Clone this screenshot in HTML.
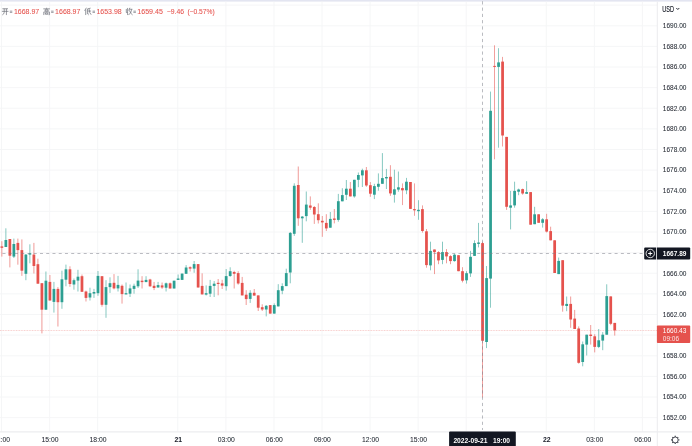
<!DOCTYPE html>
<html><head><meta charset="utf-8"><title>chart</title>
<style>
html,body{margin:0;padding:0;background:#fff;}
body{width:692px;height:446px;overflow:hidden;position:relative;font-family:"Liberation Sans",sans-serif;}
svg{position:absolute;left:0;top:0;display:block;}
text{font-family:"Liberation Sans",sans-serif;}
</style></head><body>
<svg width="692" height="446" viewBox="0 0 692 446" style="will-change:transform">
<rect x="0" y="0" width="692" height="446" fill="#ffffff"/>
<rect x="0" y="0" width="692" height="1.6" fill="#e3e5f1"/>
<defs><filter id="b" x="-5%" y="-50%" width="110%" height="200%"><feGaussianBlur stdDeviation="0.28"/></filter><filter id="b2" x="-2%" y="-2%" width="104%" height="104%"><feGaussianBlur stdDeviation="0.25"/></filter></defs>
<g stroke="#f4f5f6" stroke-width="0.9" shape-rendering="auto">
<line x1="0" y1="25.75" x2="657.3" y2="25.75"/>
<line x1="0" y1="46.38" x2="657.3" y2="46.38"/>
<line x1="0" y1="67.00" x2="657.3" y2="67.00"/>
<line x1="0" y1="87.62" x2="657.3" y2="87.62"/>
<line x1="0" y1="108.25" x2="657.3" y2="108.25"/>
<line x1="0" y1="128.88" x2="657.3" y2="128.88"/>
<line x1="0" y1="149.50" x2="657.3" y2="149.50"/>
<line x1="0" y1="170.12" x2="657.3" y2="170.12"/>
<line x1="0" y1="190.75" x2="657.3" y2="190.75"/>
<line x1="0" y1="211.38" x2="657.3" y2="211.38"/>
<line x1="0" y1="232.00" x2="657.3" y2="232.00"/>
<line x1="0" y1="252.62" x2="657.3" y2="252.62"/>
<line x1="0" y1="273.25" x2="657.3" y2="273.25"/>
<line x1="0" y1="293.88" x2="657.3" y2="293.88"/>
<line x1="0" y1="314.50" x2="657.3" y2="314.50"/>
<line x1="0" y1="335.12" x2="657.3" y2="335.12"/>
<line x1="0" y1="355.75" x2="657.3" y2="355.75"/>
<line x1="0" y1="376.38" x2="657.3" y2="376.38"/>
<line x1="0" y1="397.00" x2="657.3" y2="397.00"/>
<line x1="0" y1="417.62" x2="657.3" y2="417.62"/>
<line x1="0" y1="5.12" x2="657.3" y2="5.12"/>
<line x1="1.55" y1="1.6" x2="1.55" y2="431.9"/>
<line x1="49.62" y1="1.6" x2="49.62" y2="431.9"/>
<line x1="97.69" y1="1.6" x2="97.69" y2="431.9"/>
<line x1="177.81" y1="1.6" x2="177.81" y2="431.9"/>
<line x1="225.87" y1="1.6" x2="225.87" y2="431.9"/>
<line x1="273.94" y1="1.6" x2="273.94" y2="431.9"/>
<line x1="322.01" y1="1.6" x2="322.01" y2="431.9"/>
<line x1="370.08" y1="1.6" x2="370.08" y2="431.9"/>
<line x1="418.15" y1="1.6" x2="418.15" y2="431.9"/>
<line x1="466.22" y1="1.6" x2="466.22" y2="431.9"/>
<line x1="546.34" y1="1.6" x2="546.34" y2="431.9"/>
<line x1="594.41" y1="1.6" x2="594.41" y2="431.9"/>
<line x1="642.48" y1="1.6" x2="642.48" y2="431.9"/>
</g>
<line x1="657.3" y1="1.6" x2="657.3" y2="446" stroke="#ebecee" stroke-width="1"/>
<line x1="0" y1="431.9" x2="692" y2="431.9" stroke="#ecedef" stroke-width="1.2"/>
<line x1="0" y1="330.3" x2="657.3" y2="330.3" stroke="#e5524d" stroke-width="0.6" stroke-dasharray="0.9 0.7" opacity="0.6"/>
<g>
<line x1="1.85" y1="241.20" x2="1.85" y2="256.60" stroke="#e5524d" stroke-width="0.85" opacity="0.68"/>
<rect x="0.48" y="246.40" width="2.75" height="1.40" fill="#e5524d"/>
<line x1="5.86" y1="228.30" x2="5.86" y2="247.00" stroke="#2d9f92" stroke-width="0.85" opacity="0.68"/>
<rect x="4.48" y="240.00" width="2.75" height="7.00" fill="#2d9f92"/>
<line x1="9.86" y1="239.00" x2="9.86" y2="267.40" stroke="#e5524d" stroke-width="0.85" opacity="0.68"/>
<rect x="8.49" y="239.00" width="2.75" height="16.70" fill="#e5524d"/>
<line x1="13.87" y1="238.60" x2="13.87" y2="258.00" stroke="#2d9f92" stroke-width="0.85" opacity="0.68"/>
<rect x="12.49" y="244.00" width="2.75" height="12.60" fill="#2d9f92"/>
<line x1="17.87" y1="238.60" x2="17.87" y2="264.70" stroke="#e5524d" stroke-width="0.85" opacity="0.68"/>
<rect x="16.50" y="242.90" width="2.75" height="7.20" fill="#e5524d"/>
<line x1="21.88" y1="239.40" x2="21.88" y2="275.90" stroke="#e5524d" stroke-width="0.85" opacity="0.68"/>
<rect x="20.50" y="250.10" width="2.75" height="20.60" fill="#e5524d"/>
<line x1="25.88" y1="254.00" x2="25.88" y2="280.20" stroke="#2d9f92" stroke-width="0.85" opacity="0.68"/>
<rect x="24.51" y="254.60" width="2.75" height="19.20" fill="#2d9f92"/>
<line x1="29.89" y1="244.30" x2="29.89" y2="263.30" stroke="#2d9f92" stroke-width="0.85" opacity="0.68"/>
<rect x="28.52" y="253.20" width="2.75" height="1.40" fill="#2d9f92"/>
<line x1="33.90" y1="242.90" x2="33.90" y2="273.50" stroke="#e5524d" stroke-width="0.85" opacity="0.68"/>
<rect x="32.52" y="254.60" width="2.75" height="11.40" fill="#e5524d"/>
<line x1="37.90" y1="258.70" x2="37.90" y2="283.70" stroke="#e5524d" stroke-width="0.85" opacity="0.68"/>
<rect x="36.53" y="264.20" width="2.75" height="19.50" fill="#e5524d"/>
<line x1="41.91" y1="283.20" x2="41.91" y2="333.40" stroke="#e5524d" stroke-width="0.85" opacity="0.68"/>
<rect x="40.53" y="283.20" width="2.75" height="26.50" fill="#e5524d"/>
<line x1="45.91" y1="271.50" x2="45.91" y2="309.70" stroke="#2d9f92" stroke-width="0.85" opacity="0.68"/>
<rect x="44.54" y="280.70" width="2.75" height="29.00" fill="#2d9f92"/>
<line x1="49.92" y1="275.00" x2="49.92" y2="300.50" stroke="#e5524d" stroke-width="0.85" opacity="0.68"/>
<rect x="48.54" y="281.90" width="2.75" height="18.60" fill="#e5524d"/>
<line x1="53.93" y1="281.90" x2="53.93" y2="312.60" stroke="#2d9f92" stroke-width="0.85" opacity="0.68"/>
<rect x="52.55" y="288.90" width="2.75" height="13.00" fill="#2d9f92"/>
<line x1="57.93" y1="287.10" x2="57.93" y2="326.50" stroke="#e5524d" stroke-width="0.85" opacity="0.68"/>
<rect x="56.56" y="288.90" width="2.75" height="13.30" fill="#e5524d"/>
<line x1="61.94" y1="270.70" x2="61.94" y2="308.80" stroke="#2d9f92" stroke-width="0.85" opacity="0.68"/>
<rect x="60.56" y="279.30" width="2.75" height="22.90" fill="#2d9f92"/>
<line x1="65.94" y1="264.60" x2="65.94" y2="286.30" stroke="#2d9f92" stroke-width="0.85" opacity="0.68"/>
<rect x="64.57" y="269.30" width="2.75" height="10.40" fill="#2d9f92"/>
<line x1="69.95" y1="266.30" x2="69.95" y2="286.80" stroke="#e5524d" stroke-width="0.85" opacity="0.68"/>
<rect x="68.57" y="269.30" width="2.75" height="14.70" fill="#e5524d"/>
<line x1="73.95" y1="278.50" x2="73.95" y2="289.70" stroke="#2d9f92" stroke-width="0.85" opacity="0.68"/>
<rect x="72.58" y="280.20" width="2.75" height="4.30" fill="#2d9f92"/>
<line x1="77.96" y1="269.80" x2="77.96" y2="291.50" stroke="#2d9f92" stroke-width="0.85" opacity="0.68"/>
<rect x="76.59" y="276.70" width="2.75" height="3.90" fill="#2d9f92"/>
<line x1="81.97" y1="274.50" x2="81.97" y2="291.80" stroke="#e5524d" stroke-width="0.85" opacity="0.68"/>
<rect x="80.59" y="276.20" width="2.75" height="15.60" fill="#e5524d"/>
<line x1="85.97" y1="290.60" x2="85.97" y2="301.50" stroke="#e5524d" stroke-width="0.85" opacity="0.68"/>
<rect x="84.60" y="291.50" width="2.75" height="6.40" fill="#e5524d"/>
<line x1="89.98" y1="287.70" x2="89.98" y2="300.50" stroke="#2d9f92" stroke-width="0.85" opacity="0.68"/>
<rect x="88.60" y="293.20" width="2.75" height="4.30" fill="#2d9f92"/>
<line x1="93.98" y1="288.90" x2="93.98" y2="297.90" stroke="#2d9f92" stroke-width="0.85" opacity="0.68"/>
<rect x="92.61" y="292.00" width="2.75" height="1.60" fill="#2d9f92"/>
<line x1="97.99" y1="271.00" x2="97.99" y2="295.80" stroke="#2d9f92" stroke-width="0.85" opacity="0.68"/>
<rect x="96.61" y="275.90" width="2.75" height="17.30" fill="#2d9f92"/>
<line x1="101.99" y1="276.20" x2="101.99" y2="306.70" stroke="#e5524d" stroke-width="0.85" opacity="0.68"/>
<rect x="100.62" y="276.20" width="2.75" height="28.60" fill="#e5524d"/>
<line x1="106.00" y1="280.20" x2="106.00" y2="317.80" stroke="#2d9f92" stroke-width="0.85" opacity="0.68"/>
<rect x="104.63" y="287.10" width="2.75" height="17.70" fill="#2d9f92"/>
<line x1="110.01" y1="277.30" x2="110.01" y2="292.90" stroke="#2d9f92" stroke-width="0.85" opacity="0.68"/>
<rect x="108.63" y="283.20" width="2.75" height="3.90" fill="#2d9f92"/>
<line x1="114.01" y1="274.10" x2="114.01" y2="289.40" stroke="#e5524d" stroke-width="0.85" opacity="0.68"/>
<rect x="112.64" y="282.80" width="2.75" height="5.60" fill="#e5524d"/>
<line x1="118.02" y1="275.90" x2="118.02" y2="291.50" stroke="#2d9f92" stroke-width="0.85" opacity="0.68"/>
<rect x="116.64" y="284.90" width="2.75" height="3.50" fill="#2d9f92"/>
<line x1="122.02" y1="284.50" x2="122.02" y2="303.60" stroke="#e5524d" stroke-width="0.85" opacity="0.68"/>
<rect x="120.65" y="285.80" width="2.75" height="8.30" fill="#e5524d"/>
<line x1="126.03" y1="282.50" x2="126.03" y2="294.40" stroke="#2d9f92" stroke-width="0.85" opacity="0.68"/>
<rect x="124.65" y="293.20" width="2.75" height="1.20" fill="#2d9f92"/>
<line x1="130.04" y1="284.50" x2="130.04" y2="297.00" stroke="#2d9f92" stroke-width="0.85" opacity="0.68"/>
<rect x="128.66" y="288.40" width="2.75" height="5.30" fill="#2d9f92"/>
<line x1="134.04" y1="283.70" x2="134.04" y2="293.70" stroke="#2d9f92" stroke-width="0.85" opacity="0.68"/>
<rect x="132.67" y="285.80" width="2.75" height="3.10" fill="#2d9f92"/>
<line x1="138.05" y1="269.30" x2="138.05" y2="288.00" stroke="#2d9f92" stroke-width="0.85" opacity="0.68"/>
<rect x="136.67" y="280.60" width="2.75" height="5.70" fill="#2d9f92"/>
<line x1="142.05" y1="276.20" x2="142.05" y2="288.50" stroke="#e5524d" stroke-width="0.85" opacity="0.68"/>
<rect x="140.68" y="280.70" width="2.75" height="1.40" fill="#e5524d"/>
<line x1="146.06" y1="276.20" x2="146.06" y2="282.10" stroke="#2d9f92" stroke-width="0.85" opacity="0.68"/>
<rect x="144.68" y="279.90" width="2.75" height="2.20" fill="#2d9f92"/>
<line x1="150.06" y1="278.80" x2="150.06" y2="286.80" stroke="#e5524d" stroke-width="0.85" opacity="0.68"/>
<rect x="148.69" y="279.50" width="2.75" height="6.80" fill="#e5524d"/>
<line x1="154.07" y1="281.90" x2="154.07" y2="290.10" stroke="#e5524d" stroke-width="0.85" opacity="0.68"/>
<rect x="152.70" y="285.80" width="2.75" height="2.20" fill="#e5524d"/>
<line x1="158.08" y1="281.90" x2="158.08" y2="287.50" stroke="#2d9f92" stroke-width="0.85" opacity="0.68"/>
<rect x="156.70" y="285.10" width="2.75" height="2.40" fill="#2d9f92"/>
<line x1="162.08" y1="282.50" x2="162.08" y2="288.90" stroke="#e5524d" stroke-width="0.85" opacity="0.68"/>
<rect x="160.71" y="285.40" width="2.75" height="2.10" fill="#e5524d"/>
<line x1="166.09" y1="282.50" x2="166.09" y2="291.50" stroke="#2d9f92" stroke-width="0.85" opacity="0.68"/>
<rect x="164.71" y="283.30" width="2.75" height="4.40" fill="#2d9f92"/>
<line x1="170.09" y1="282.50" x2="170.09" y2="288.50" stroke="#e5524d" stroke-width="0.85" opacity="0.68"/>
<rect x="168.72" y="283.30" width="2.75" height="5.20" fill="#e5524d"/>
<line x1="174.10" y1="280.70" x2="174.10" y2="288.50" stroke="#2d9f92" stroke-width="0.85" opacity="0.68"/>
<rect x="172.72" y="280.70" width="2.75" height="7.80" fill="#2d9f92"/>
<line x1="178.11" y1="274.50" x2="178.11" y2="279.90" stroke="#2d9f92" stroke-width="0.85" opacity="0.68"/>
<rect x="176.73" y="278.50" width="2.75" height="1.40" fill="#2d9f92"/>
<line x1="182.11" y1="273.60" x2="182.11" y2="279.90" stroke="#2d9f92" stroke-width="0.85" opacity="0.68"/>
<rect x="180.74" y="273.60" width="2.75" height="6.30" fill="#2d9f92"/>
<line x1="186.12" y1="265.10" x2="186.12" y2="273.80" stroke="#2d9f92" stroke-width="0.85" opacity="0.68"/>
<rect x="184.74" y="267.50" width="2.75" height="6.30" fill="#2d9f92"/>
<line x1="190.12" y1="266.30" x2="190.12" y2="271.50" stroke="#e5524d" stroke-width="0.85" opacity="0.68"/>
<rect x="188.75" y="267.20" width="2.75" height="1.40" fill="#e5524d"/>
<line x1="194.13" y1="261.00" x2="194.13" y2="272.75" stroke="#2d9f92" stroke-width="0.85" opacity="0.68"/>
<rect x="192.75" y="264.10" width="2.75" height="4.50" fill="#2d9f92"/>
<line x1="198.13" y1="264.10" x2="198.13" y2="287.50" stroke="#e5524d" stroke-width="0.85" opacity="0.68"/>
<rect x="196.76" y="264.10" width="2.75" height="23.40" fill="#e5524d"/>
<line x1="202.14" y1="273.30" x2="202.14" y2="294.40" stroke="#e5524d" stroke-width="0.85" opacity="0.68"/>
<rect x="200.76" y="285.90" width="2.75" height="8.50" fill="#e5524d"/>
<line x1="206.15" y1="285.40" x2="206.15" y2="295.50" stroke="#2d9f92" stroke-width="0.85" opacity="0.68"/>
<rect x="204.77" y="293.20" width="2.75" height="1.40" fill="#2d9f92"/>
<line x1="210.15" y1="279.90" x2="210.15" y2="297.00" stroke="#2d9f92" stroke-width="0.85" opacity="0.68"/>
<rect x="208.78" y="285.90" width="2.75" height="7.80" fill="#2d9f92"/>
<line x1="214.16" y1="281.10" x2="214.16" y2="297.00" stroke="#2d9f92" stroke-width="0.85" opacity="0.68"/>
<rect x="212.78" y="283.70" width="2.75" height="2.20" fill="#2d9f92"/>
<line x1="218.16" y1="279.00" x2="218.16" y2="295.30" stroke="#e5524d" stroke-width="0.85" opacity="0.68"/>
<rect x="216.79" y="282.80" width="2.75" height="1.20" fill="#e5524d"/>
<line x1="222.17" y1="279.80" x2="222.17" y2="289.00" stroke="#e5524d" stroke-width="0.85" opacity="0.68"/>
<rect x="220.79" y="283.40" width="2.75" height="2.20" fill="#e5524d"/>
<line x1="226.17" y1="269.00" x2="226.17" y2="290.60" stroke="#2d9f92" stroke-width="0.85" opacity="0.68"/>
<rect x="224.80" y="276.10" width="2.75" height="10.10" fill="#2d9f92"/>
<line x1="230.18" y1="267.30" x2="230.18" y2="276.90" stroke="#2d9f92" stroke-width="0.85" opacity="0.68"/>
<rect x="228.81" y="271.20" width="2.75" height="4.80" fill="#2d9f92"/>
<line x1="234.19" y1="270.80" x2="234.19" y2="288.50" stroke="#e5524d" stroke-width="0.85" opacity="0.68"/>
<rect x="232.81" y="272.00" width="2.75" height="1.80" fill="#e5524d"/>
<line x1="238.19" y1="271.20" x2="238.19" y2="284.70" stroke="#e5524d" stroke-width="0.85" opacity="0.68"/>
<rect x="236.82" y="273.10" width="2.75" height="10.40" fill="#e5524d"/>
<line x1="242.20" y1="276.90" x2="242.20" y2="295.40" stroke="#e5524d" stroke-width="0.85" opacity="0.68"/>
<rect x="240.82" y="282.90" width="2.75" height="12.50" fill="#e5524d"/>
<line x1="246.20" y1="290.20" x2="246.20" y2="305.00" stroke="#e5524d" stroke-width="0.85" opacity="0.68"/>
<rect x="244.83" y="294.70" width="2.75" height="4.40" fill="#e5524d"/>
<line x1="250.21" y1="290.20" x2="250.21" y2="302.90" stroke="#2d9f92" stroke-width="0.85" opacity="0.68"/>
<rect x="248.83" y="292.80" width="2.75" height="6.10" fill="#2d9f92"/>
<line x1="254.22" y1="289.00" x2="254.22" y2="295.60" stroke="#e5524d" stroke-width="0.85" opacity="0.68"/>
<rect x="252.84" y="292.80" width="2.75" height="2.80" fill="#e5524d"/>
<line x1="258.22" y1="295.40" x2="258.22" y2="311.00" stroke="#e5524d" stroke-width="0.85" opacity="0.68"/>
<rect x="256.85" y="295.40" width="2.75" height="12.30" fill="#e5524d"/>
<line x1="262.23" y1="304.30" x2="262.23" y2="311.00" stroke="#e5524d" stroke-width="0.85" opacity="0.68"/>
<rect x="260.85" y="307.20" width="2.75" height="2.30" fill="#e5524d"/>
<line x1="266.23" y1="305.00" x2="266.23" y2="316.40" stroke="#2d9f92" stroke-width="0.85" opacity="0.68"/>
<rect x="264.86" y="305.80" width="2.75" height="3.70" fill="#2d9f92"/>
<line x1="270.24" y1="305.10" x2="270.24" y2="313.60" stroke="#e5524d" stroke-width="0.85" opacity="0.68"/>
<rect x="268.86" y="305.10" width="2.75" height="8.50" fill="#e5524d"/>
<line x1="274.24" y1="303.40" x2="274.24" y2="313.60" stroke="#2d9f92" stroke-width="0.85" opacity="0.68"/>
<rect x="272.87" y="305.10" width="2.75" height="8.50" fill="#2d9f92"/>
<line x1="278.25" y1="284.20" x2="278.25" y2="306.40" stroke="#2d9f92" stroke-width="0.85" opacity="0.68"/>
<rect x="276.88" y="290.20" width="2.75" height="16.20" fill="#2d9f92"/>
<line x1="282.26" y1="283.30" x2="282.26" y2="294.20" stroke="#2d9f92" stroke-width="0.85" opacity="0.68"/>
<rect x="280.88" y="286.10" width="2.75" height="4.60" fill="#2d9f92"/>
<line x1="286.26" y1="268.70" x2="286.26" y2="286.10" stroke="#2d9f92" stroke-width="0.85" opacity="0.68"/>
<rect x="284.89" y="273.10" width="2.75" height="13.00" fill="#2d9f92"/>
<line x1="290.27" y1="232.00" x2="290.27" y2="283.30" stroke="#2d9f92" stroke-width="0.85" opacity="0.68"/>
<rect x="288.89" y="232.90" width="2.75" height="39.60" fill="#2d9f92"/>
<line x1="294.27" y1="183.30" x2="294.27" y2="235.90" stroke="#2d9f92" stroke-width="0.85" opacity="0.68"/>
<rect x="292.90" y="185.80" width="2.75" height="48.00" fill="#2d9f92"/>
<line x1="298.28" y1="166.50" x2="298.28" y2="225.80" stroke="#e5524d" stroke-width="0.85" opacity="0.68"/>
<rect x="296.90" y="185.00" width="2.75" height="33.30" fill="#e5524d"/>
<line x1="302.29" y1="216.00" x2="302.29" y2="242.80" stroke="#2d9f92" stroke-width="0.85" opacity="0.68"/>
<rect x="300.91" y="216.60" width="2.75" height="1.70" fill="#2d9f92"/>
<line x1="306.29" y1="191.50" x2="306.29" y2="221.30" stroke="#2d9f92" stroke-width="0.85" opacity="0.68"/>
<rect x="304.92" y="204.60" width="2.75" height="11.50" fill="#2d9f92"/>
<line x1="310.30" y1="196.40" x2="310.30" y2="209.80" stroke="#e5524d" stroke-width="0.85" opacity="0.68"/>
<rect x="308.92" y="205.50" width="2.75" height="2.20" fill="#e5524d"/>
<line x1="314.30" y1="206.00" x2="314.30" y2="223.90" stroke="#e5524d" stroke-width="0.85" opacity="0.68"/>
<rect x="312.93" y="207.00" width="2.75" height="7.50" fill="#e5524d"/>
<line x1="318.31" y1="203.30" x2="318.31" y2="223.50" stroke="#e5524d" stroke-width="0.85" opacity="0.68"/>
<rect x="316.93" y="214.20" width="2.75" height="6.00" fill="#e5524d"/>
<line x1="322.31" y1="216.00" x2="322.31" y2="236.80" stroke="#e5524d" stroke-width="0.85" opacity="0.68"/>
<rect x="320.94" y="220.80" width="2.75" height="1.60" fill="#e5524d"/>
<line x1="326.32" y1="214.20" x2="326.32" y2="231.00" stroke="#e5524d" stroke-width="0.85" opacity="0.68"/>
<rect x="324.94" y="222.90" width="2.75" height="5.50" fill="#e5524d"/>
<line x1="330.33" y1="212.00" x2="330.33" y2="227.70" stroke="#2d9f92" stroke-width="0.85" opacity="0.68"/>
<rect x="328.95" y="218.90" width="2.75" height="8.80" fill="#2d9f92"/>
<line x1="334.33" y1="209.00" x2="334.33" y2="223.40" stroke="#e5524d" stroke-width="0.85" opacity="0.68"/>
<rect x="332.96" y="218.50" width="2.75" height="1.40" fill="#e5524d"/>
<line x1="338.34" y1="193.90" x2="338.34" y2="221.70" stroke="#2d9f92" stroke-width="0.85" opacity="0.68"/>
<rect x="336.96" y="201.20" width="2.75" height="18.70" fill="#2d9f92"/>
<line x1="342.34" y1="188.20" x2="342.34" y2="201.30" stroke="#2d9f92" stroke-width="0.85" opacity="0.68"/>
<rect x="340.97" y="195.10" width="2.75" height="6.20" fill="#2d9f92"/>
<line x1="346.35" y1="180.00" x2="346.35" y2="200.00" stroke="#2d9f92" stroke-width="0.85" opacity="0.68"/>
<rect x="344.97" y="188.70" width="2.75" height="6.10" fill="#2d9f92"/>
<line x1="350.35" y1="182.00" x2="350.35" y2="196.40" stroke="#e5524d" stroke-width="0.85" opacity="0.68"/>
<rect x="348.98" y="188.70" width="2.75" height="7.70" fill="#e5524d"/>
<line x1="354.36" y1="179.80" x2="354.36" y2="197.70" stroke="#2d9f92" stroke-width="0.85" opacity="0.68"/>
<rect x="352.99" y="179.80" width="2.75" height="16.60" fill="#2d9f92"/>
<line x1="358.37" y1="172.50" x2="358.37" y2="187.20" stroke="#2d9f92" stroke-width="0.85" opacity="0.68"/>
<rect x="356.99" y="175.00" width="2.75" height="4.80" fill="#2d9f92"/>
<line x1="362.37" y1="168.70" x2="362.37" y2="187.00" stroke="#2d9f92" stroke-width="0.85" opacity="0.68"/>
<rect x="361.00" y="170.30" width="2.75" height="5.10" fill="#2d9f92"/>
<line x1="366.38" y1="167.00" x2="366.38" y2="186.80" stroke="#e5524d" stroke-width="0.85" opacity="0.68"/>
<rect x="365.00" y="170.30" width="2.75" height="15.20" fill="#e5524d"/>
<line x1="370.38" y1="182.10" x2="370.38" y2="196.80" stroke="#e5524d" stroke-width="0.85" opacity="0.68"/>
<rect x="369.01" y="185.20" width="2.75" height="8.50" fill="#e5524d"/>
<line x1="374.39" y1="183.80" x2="374.39" y2="199.10" stroke="#2d9f92" stroke-width="0.85" opacity="0.68"/>
<rect x="373.01" y="186.10" width="2.75" height="8.60" fill="#2d9f92"/>
<line x1="378.40" y1="173.40" x2="378.40" y2="190.70" stroke="#2d9f92" stroke-width="0.85" opacity="0.68"/>
<rect x="377.02" y="183.80" width="2.75" height="3.00" fill="#2d9f92"/>
<line x1="382.40" y1="153.10" x2="382.40" y2="183.80" stroke="#2d9f92" stroke-width="0.85" opacity="0.68"/>
<rect x="381.03" y="178.10" width="2.75" height="5.70" fill="#2d9f92"/>
<line x1="386.41" y1="168.90" x2="386.41" y2="189.00" stroke="#2d9f92" stroke-width="0.85" opacity="0.68"/>
<rect x="385.03" y="177.00" width="2.75" height="1.40" fill="#2d9f92"/>
<line x1="390.41" y1="165.20" x2="390.41" y2="195.80" stroke="#e5524d" stroke-width="0.85" opacity="0.68"/>
<rect x="389.04" y="176.80" width="2.75" height="16.60" fill="#e5524d"/>
<line x1="394.42" y1="169.70" x2="394.42" y2="202.60" stroke="#2d9f92" stroke-width="0.85" opacity="0.68"/>
<rect x="393.04" y="189.30" width="2.75" height="5.40" fill="#2d9f92"/>
<line x1="398.42" y1="171.50" x2="398.42" y2="191.70" stroke="#2d9f92" stroke-width="0.85" opacity="0.68"/>
<rect x="397.05" y="187.30" width="2.75" height="2.30" fill="#2d9f92"/>
<line x1="402.43" y1="183.40" x2="402.43" y2="205.10" stroke="#e5524d" stroke-width="0.85" opacity="0.68"/>
<rect x="401.06" y="188.10" width="2.75" height="2.20" fill="#e5524d"/>
<line x1="406.44" y1="177.90" x2="406.44" y2="194.20" stroke="#2d9f92" stroke-width="0.85" opacity="0.68"/>
<rect x="405.06" y="181.70" width="2.75" height="8.60" fill="#2d9f92"/>
<line x1="410.44" y1="182.00" x2="410.44" y2="208.90" stroke="#e5524d" stroke-width="0.85" opacity="0.68"/>
<rect x="409.07" y="182.00" width="2.75" height="26.90" fill="#e5524d"/>
<line x1="414.45" y1="183.40" x2="414.45" y2="215.80" stroke="#e5524d" stroke-width="0.85" opacity="0.68"/>
<rect x="413.07" y="209.10" width="2.75" height="1.20" fill="#e5524d"/>
<line x1="418.45" y1="200.20" x2="418.45" y2="219.80" stroke="#2d9f92" stroke-width="0.85" opacity="0.68"/>
<rect x="417.08" y="209.80" width="2.75" height="1.40" fill="#2d9f92"/>
<line x1="422.46" y1="205.40" x2="422.46" y2="232.60" stroke="#e5524d" stroke-width="0.85" opacity="0.68"/>
<rect x="421.08" y="209.10" width="2.75" height="21.90" fill="#e5524d"/>
<line x1="426.46" y1="229.00" x2="426.46" y2="267.70" stroke="#e5524d" stroke-width="0.85" opacity="0.68"/>
<rect x="425.09" y="231.30" width="2.75" height="33.80" fill="#e5524d"/>
<line x1="430.47" y1="241.70" x2="430.47" y2="270.30" stroke="#2d9f92" stroke-width="0.85" opacity="0.68"/>
<rect x="429.10" y="250.90" width="2.75" height="14.50" fill="#2d9f92"/>
<line x1="434.48" y1="249.50" x2="434.48" y2="274.10" stroke="#e5524d" stroke-width="0.85" opacity="0.68"/>
<rect x="433.10" y="249.50" width="2.75" height="2.60" fill="#e5524d"/>
<line x1="438.48" y1="251.20" x2="438.48" y2="264.20" stroke="#e5524d" stroke-width="0.85" opacity="0.68"/>
<rect x="437.11" y="252.10" width="2.75" height="8.30" fill="#e5524d"/>
<line x1="442.49" y1="241.70" x2="442.49" y2="264.20" stroke="#2d9f92" stroke-width="0.85" opacity="0.68"/>
<rect x="441.11" y="252.10" width="2.75" height="7.80" fill="#2d9f92"/>
<line x1="446.49" y1="249.10" x2="446.49" y2="263.30" stroke="#e5524d" stroke-width="0.85" opacity="0.68"/>
<rect x="445.12" y="252.10" width="2.75" height="4.30" fill="#e5524d"/>
<line x1="450.50" y1="255.20" x2="450.50" y2="264.20" stroke="#e5524d" stroke-width="0.85" opacity="0.68"/>
<rect x="449.12" y="256.10" width="2.75" height="5.00" fill="#e5524d"/>
<line x1="454.51" y1="253.80" x2="454.51" y2="261.60" stroke="#2d9f92" stroke-width="0.85" opacity="0.68"/>
<rect x="453.13" y="254.70" width="2.75" height="6.40" fill="#2d9f92"/>
<line x1="458.51" y1="255.20" x2="458.51" y2="271.20" stroke="#e5524d" stroke-width="0.85" opacity="0.68"/>
<rect x="457.14" y="255.20" width="2.75" height="16.00" fill="#e5524d"/>
<line x1="462.52" y1="267.20" x2="462.52" y2="282.40" stroke="#e5524d" stroke-width="0.85" opacity="0.68"/>
<rect x="461.14" y="271.20" width="2.75" height="9.50" fill="#e5524d"/>
<line x1="466.52" y1="271.20" x2="466.52" y2="283.60" stroke="#2d9f92" stroke-width="0.85" opacity="0.68"/>
<rect x="465.15" y="273.20" width="2.75" height="7.10" fill="#2d9f92"/>
<line x1="470.53" y1="250.90" x2="470.53" y2="276.90" stroke="#2d9f92" stroke-width="0.85" opacity="0.68"/>
<rect x="469.15" y="256.80" width="2.75" height="16.60" fill="#2d9f92"/>
<line x1="474.53" y1="240.30" x2="474.53" y2="255.90" stroke="#2d9f92" stroke-width="0.85" opacity="0.68"/>
<rect x="473.16" y="243.10" width="2.75" height="12.80" fill="#2d9f92"/>
<line x1="478.54" y1="222.90" x2="478.54" y2="247.40" stroke="#2d9f92" stroke-width="0.85" opacity="0.68"/>
<rect x="477.17" y="242.50" width="2.75" height="1.40" fill="#2d9f92"/>
<line x1="482.55" y1="241.70" x2="482.55" y2="397.40" stroke="#e5524d" stroke-width="0.85" opacity="0.68"/>
<rect x="481.17" y="243.10" width="2.75" height="97.70" fill="#e5524d"/>
<line x1="486.55" y1="266.00" x2="486.55" y2="348.10" stroke="#2d9f92" stroke-width="0.85" opacity="0.68"/>
<rect x="485.18" y="278.10" width="2.75" height="63.90" fill="#2d9f92"/>
<line x1="490.56" y1="91.60" x2="490.56" y2="307.70" stroke="#2d9f92" stroke-width="0.85" opacity="0.68"/>
<rect x="489.18" y="110.80" width="2.75" height="167.80" fill="#2d9f92"/>
<line x1="494.56" y1="45.30" x2="494.56" y2="159.30" stroke="#e5524d" stroke-width="0.85" opacity="0.68"/>
<rect x="493.19" y="65.90" width="2.75" height="1.00" fill="#e5524d"/>
<line x1="498.57" y1="48.20" x2="498.57" y2="147.70" stroke="#2d9f92" stroke-width="0.85" opacity="0.68"/>
<rect x="497.19" y="62.40" width="2.75" height="4.50" fill="#2d9f92"/>
<line x1="502.57" y1="56.90" x2="502.57" y2="146.50" stroke="#e5524d" stroke-width="0.85" opacity="0.68"/>
<rect x="501.20" y="61.60" width="2.75" height="73.90" fill="#e5524d"/>
<line x1="506.58" y1="136.90" x2="506.58" y2="209.90" stroke="#e5524d" stroke-width="0.85" opacity="0.68"/>
<rect x="505.21" y="136.90" width="2.75" height="69.90" fill="#e5524d"/>
<line x1="510.59" y1="190.90" x2="510.59" y2="229.40" stroke="#2d9f92" stroke-width="0.85" opacity="0.68"/>
<rect x="509.21" y="205.40" width="2.75" height="2.30" fill="#2d9f92"/>
<line x1="514.59" y1="181.70" x2="514.59" y2="207.70" stroke="#2d9f92" stroke-width="0.85" opacity="0.68"/>
<rect x="513.22" y="190.90" width="2.75" height="14.50" fill="#2d9f92"/>
<line x1="518.60" y1="188.60" x2="518.60" y2="195.20" stroke="#2d9f92" stroke-width="0.85" opacity="0.68"/>
<rect x="517.22" y="189.50" width="2.75" height="2.20" fill="#2d9f92"/>
<line x1="522.60" y1="188.60" x2="522.60" y2="194.70" stroke="#e5524d" stroke-width="0.85" opacity="0.68"/>
<rect x="521.23" y="189.10" width="2.75" height="4.40" fill="#e5524d"/>
<line x1="526.61" y1="181.20" x2="526.61" y2="193.80" stroke="#2d9f92" stroke-width="0.85" opacity="0.68"/>
<rect x="525.23" y="192.10" width="2.75" height="1.70" fill="#2d9f92"/>
<line x1="530.62" y1="192.10" x2="530.62" y2="224.70" stroke="#e5524d" stroke-width="0.85" opacity="0.68"/>
<rect x="529.24" y="192.10" width="2.75" height="32.60" fill="#e5524d"/>
<line x1="534.62" y1="206.80" x2="534.62" y2="224.20" stroke="#2d9f92" stroke-width="0.85" opacity="0.68"/>
<rect x="533.25" y="214.30" width="2.75" height="9.90" fill="#2d9f92"/>
<line x1="538.63" y1="214.30" x2="538.63" y2="222.80" stroke="#e5524d" stroke-width="0.85" opacity="0.68"/>
<rect x="537.25" y="214.30" width="2.75" height="8.50" fill="#e5524d"/>
<line x1="542.63" y1="218.10" x2="542.63" y2="227.60" stroke="#2d9f92" stroke-width="0.85" opacity="0.68"/>
<rect x="541.26" y="219.30" width="2.75" height="3.50" fill="#2d9f92"/>
<line x1="546.64" y1="213.80" x2="546.64" y2="232.50" stroke="#e5524d" stroke-width="0.85" opacity="0.68"/>
<rect x="545.26" y="219.30" width="2.75" height="12.30" fill="#e5524d"/>
<line x1="550.64" y1="226.70" x2="550.64" y2="240.30" stroke="#e5524d" stroke-width="0.85" opacity="0.68"/>
<rect x="549.27" y="231.10" width="2.75" height="9.20" fill="#e5524d"/>
<line x1="554.65" y1="240.30" x2="554.65" y2="273.00" stroke="#e5524d" stroke-width="0.85" opacity="0.68"/>
<rect x="553.28" y="240.30" width="2.75" height="32.70" fill="#e5524d"/>
<line x1="558.66" y1="257.60" x2="558.66" y2="274.10" stroke="#2d9f92" stroke-width="0.85" opacity="0.68"/>
<rect x="557.28" y="260.90" width="2.75" height="13.20" fill="#2d9f92"/>
<line x1="562.66" y1="260.20" x2="562.66" y2="311.70" stroke="#e5524d" stroke-width="0.85" opacity="0.68"/>
<rect x="561.29" y="260.20" width="2.75" height="45.40" fill="#e5524d"/>
<line x1="566.67" y1="296.50" x2="566.67" y2="311.20" stroke="#2d9f92" stroke-width="0.85" opacity="0.68"/>
<rect x="565.29" y="303.90" width="2.75" height="2.10" fill="#2d9f92"/>
<line x1="570.67" y1="296.50" x2="570.67" y2="327.80" stroke="#e5524d" stroke-width="0.85" opacity="0.68"/>
<rect x="569.30" y="303.90" width="2.75" height="15.60" fill="#e5524d"/>
<line x1="574.68" y1="309.90" x2="574.68" y2="329.00" stroke="#e5524d" stroke-width="0.85" opacity="0.68"/>
<rect x="573.30" y="318.60" width="2.75" height="10.40" fill="#e5524d"/>
<line x1="578.69" y1="326.40" x2="578.69" y2="363.70" stroke="#e5524d" stroke-width="0.85" opacity="0.68"/>
<rect x="577.31" y="328.50" width="2.75" height="34.30" fill="#e5524d"/>
<line x1="582.69" y1="341.50" x2="582.69" y2="366.30" stroke="#2d9f92" stroke-width="0.85" opacity="0.68"/>
<rect x="581.32" y="344.30" width="2.75" height="17.70" fill="#2d9f92"/>
<line x1="586.70" y1="334.70" x2="586.70" y2="355.50" stroke="#2d9f92" stroke-width="0.85" opacity="0.68"/>
<rect x="585.32" y="334.70" width="2.75" height="9.90" fill="#2d9f92"/>
<line x1="590.70" y1="325.00" x2="590.70" y2="344.60" stroke="#e5524d" stroke-width="0.85" opacity="0.68"/>
<rect x="589.33" y="334.60" width="2.75" height="1.40" fill="#e5524d"/>
<line x1="594.71" y1="334.20" x2="594.71" y2="352.40" stroke="#e5524d" stroke-width="0.85" opacity="0.68"/>
<rect x="593.33" y="336.30" width="2.75" height="10.60" fill="#e5524d"/>
<line x1="598.71" y1="329.00" x2="598.71" y2="348.10" stroke="#2d9f92" stroke-width="0.85" opacity="0.68"/>
<rect x="597.34" y="340.30" width="2.75" height="6.60" fill="#2d9f92"/>
<line x1="602.72" y1="332.10" x2="602.72" y2="350.20" stroke="#2d9f92" stroke-width="0.85" opacity="0.68"/>
<rect x="601.35" y="334.70" width="2.75" height="5.90" fill="#2d9f92"/>
<line x1="606.73" y1="284.30" x2="606.73" y2="334.70" stroke="#2d9f92" stroke-width="0.85" opacity="0.68"/>
<rect x="605.35" y="296.10" width="2.75" height="38.60" fill="#2d9f92"/>
<line x1="610.73" y1="296.40" x2="610.73" y2="325.20" stroke="#e5524d" stroke-width="0.85" opacity="0.68"/>
<rect x="609.36" y="296.40" width="2.75" height="27.40" fill="#e5524d"/>
<line x1="614.74" y1="322.90" x2="614.74" y2="335.60" stroke="#e5524d" stroke-width="0.85" opacity="0.68"/>
<rect x="613.36" y="322.90" width="2.75" height="7.50" fill="#e5524d"/>
</g>
<line x1="482.45" y1="1.28" x2="482.45" y2="430" stroke="#7c7f8a" stroke-width="0.75" stroke-dasharray="3.2 3.075" opacity="0.75"/>
<line x1="642.6" y1="253.45" x2="0" y2="253.45" stroke="#7c7f8a" stroke-width="0.75" stroke-dasharray="3.0 3.246" opacity="0.75"/>
<g font-size="7" fill="#1b1f2a" stroke="#1b1f2a" stroke-width="0.04" text-anchor="start" filter="url(#b2)">
<text x="662.8" y="28.05" textLength="23.6" lengthAdjust="spacingAndGlyphs">1690.00</text>
<text x="662.8" y="48.67" textLength="23.6" lengthAdjust="spacingAndGlyphs">1688.00</text>
<text x="662.8" y="69.30" textLength="23.6" lengthAdjust="spacingAndGlyphs">1686.00</text>
<text x="662.8" y="89.92" textLength="23.6" lengthAdjust="spacingAndGlyphs">1684.00</text>
<text x="662.8" y="110.55" textLength="23.6" lengthAdjust="spacingAndGlyphs">1682.00</text>
<text x="662.8" y="131.18" textLength="23.6" lengthAdjust="spacingAndGlyphs">1680.00</text>
<text x="662.8" y="151.80" textLength="23.6" lengthAdjust="spacingAndGlyphs">1678.00</text>
<text x="662.8" y="172.43" textLength="23.6" lengthAdjust="spacingAndGlyphs">1676.00</text>
<text x="662.8" y="193.05" textLength="23.6" lengthAdjust="spacingAndGlyphs">1674.00</text>
<text x="662.8" y="213.68" textLength="23.6" lengthAdjust="spacingAndGlyphs">1672.00</text>
<text x="662.8" y="234.30" textLength="23.6" lengthAdjust="spacingAndGlyphs">1670.00</text>
<text x="662.8" y="275.55" textLength="23.6" lengthAdjust="spacingAndGlyphs">1666.00</text>
<text x="662.8" y="296.18" textLength="23.6" lengthAdjust="spacingAndGlyphs">1664.00</text>
<text x="662.8" y="316.80" textLength="23.6" lengthAdjust="spacingAndGlyphs">1662.00</text>
<text x="662.8" y="358.05" textLength="23.6" lengthAdjust="spacingAndGlyphs">1658.00</text>
<text x="662.8" y="378.68" textLength="23.6" lengthAdjust="spacingAndGlyphs">1656.00</text>
<text x="662.8" y="399.30" textLength="23.6" lengthAdjust="spacingAndGlyphs">1654.00</text>
<text x="662.8" y="419.93" textLength="23.6" lengthAdjust="spacingAndGlyphs">1652.00</text>
</g>
<text x="662.2" y="11.8" font-size="8.2" fill="#131722" stroke="#131722" stroke-width="0.12" textLength="11.9" lengthAdjust="spacingAndGlyphs">USD</text>
<path d="M676.3 8.0 L677.8 9.5 L679.3 8.0" fill="none" stroke="#131722" stroke-width="0.9"/>
<path d="M645.2 247.4 H656.1 V259.4 H645.2 Q644.2 259.4 644.2 258.4 V248.4 Q644.2 247.4 645.2 247.4 Z" fill="#131722"/>
<path d="M656.9 247.4 H689.2 Q690.2 247.4 690.2 248.4 V258.4 Q690.2 259.4 689.2 259.4 H656.9 Z" fill="#131722"/>
<circle cx="650.25" cy="253.5" r="4.2" fill="none" stroke="#fff" stroke-width="0.85"/>
<path d="M648.1 253.5 H652.3 M650.2 251.4 V255.6" stroke="#fff" stroke-width="1.0" fill="none"/>
<text x="662.8" y="256.1" font-size="6.5" font-weight="bold" fill="#fff" textLength="23.6" lengthAdjust="spacingAndGlyphs">1667.89</text>
<rect x="656.9" y="325.6" width="33.3" height="17.5" rx="0.8" fill="#e5524d"/>
<text x="662.8" y="332.8" font-size="6.5" fill="#fff">1660.43</text>
<text x="662.8" y="340.9" font-size="6.5" fill="#fff" opacity="0.85">09:06</text>
<g font-size="6.8" fill="#1b1f2a" stroke="#1b1f2a" stroke-width="0.04" text-anchor="middle" filter="url(#b2)">
<text x="1.45" y="442.2">12:00</text>
<text x="50.02" y="442.2">15:00</text>
<text x="98.09" y="442.2">18:00</text>
<text x="178.21" y="442.2" font-weight="bold">21</text>
<text x="226.27" y="442.2">03:00</text>
<text x="274.34" y="442.2">06:00</text>
<text x="322.41" y="442.2">09:00</text>
<text x="370.48" y="442.2">12:00</text>
<text x="418.55" y="442.2">15:00</text>
<text x="546.74" y="442.2" font-weight="bold">22</text>
<text x="594.81" y="442.2">03:00</text>
<text x="642.88" y="442.2">06:00</text>
</g>
<path d="M450.1 431.6 H514.8 Q515.8 431.6 515.8 432.6 V446 H449.1 V432.6 Q449.1 431.6 450.1 431.6 Z" fill="#131722"/>
<text x="453.4" y="442.7" font-size="6.8" font-weight="bold" fill="#fff" xml:space="preserve" textLength="56.7" lengthAdjust="spacingAndGlyphs">2022-09-21   19:00</text>
<g transform="translate(675.25,439.95)" fill="none" stroke="#2a2e39">
<circle r="2.95" stroke-width="0.85"/>
<g stroke-width="1.2">
<line x1="3.30" y1="0.00" x2="4.10" y2="0.00"/>
<line x1="2.33" y1="2.33" x2="2.90" y2="2.90"/>
<line x1="0.00" y1="3.30" x2="0.00" y2="4.10"/>
<line x1="-2.33" y1="2.33" x2="-2.90" y2="2.90"/>
<line x1="-3.30" y1="0.00" x2="-4.10" y2="0.00"/>
<line x1="-2.33" y1="-2.33" x2="-2.90" y2="-2.90"/>
<line x1="-0.00" y1="-3.30" x2="-0.00" y2="-4.10"/>
<line x1="2.33" y1="-2.33" x2="2.90" y2="-2.90"/>
</g></g>
<path d="M2.4 8.75 H8.0 M1.9000000000000001 11.35 H8.5 M4.2 8.75 V12.35 Q4.1 14.15 2.3 14.95 M6.3999999999999995 8.75 V15.05" fill="none" stroke="#50535e" stroke-width="0.7" opacity="0.85" filter="url(#b)"/>
<path d="M46.6 7.75 V8.75 M43.300000000000004 8.85 H49.900000000000006 M45.1 9.75 H48.1 V11.05 H45.1 Z M43.800000000000004 15.05 V11.95 H49.400000000000006 V14.75 H48.6 M45.400000000000006 12.95 H47.800000000000004 V14.25 H45.400000000000006 Z" fill="none" stroke="#50535e" stroke-width="0.7" opacity="0.85" filter="url(#b)"/>
<path d="M86.4 7.75 L84.60000000000001 10.75 M85.7 9.65 V15.05 M90.60000000000001 8.15 L87.4 8.95 V13.75 L88.60000000000001 13.15 M87.4 11.05 H91.10000000000001 M89.0 8.75 Q89.4 13.25 91.2 14.75 M88.0 14.95 L88.7 14.65" fill="none" stroke="#50535e" stroke-width="0.7" opacity="0.85" filter="url(#b)"/>
<path d="M126.3 8.95 V12.55 H127.5 M127.60000000000001 7.95 V15.05 M129.9 7.75 L128.7 10.55 M129.4 9.25 H132.4 M131.7 9.25 Q131.3 13.25 128.5 15.05 M129.4 10.35 Q130.3 13.55 132.6 14.95" fill="none" stroke="#50535e" stroke-width="0.7" opacity="0.85" filter="url(#b)"/>
<g font-size="7" fill="#e5524d" stroke="#e5524d" stroke-width="0.07" filter="url(#b)">
<path d="M9.8 11.15 H12.3 M9.8 12.4 H12.3" stroke="#50535e" stroke-width="0.7" fill="none" opacity="0.8"/>
<path d="M51.1 11.15 H53.6 M51.1 12.4 H53.6" stroke="#50535e" stroke-width="0.7" fill="none" opacity="0.8"/>
<path d="M92.5 11.15 H95.0 M92.5 12.4 H95.0" stroke="#50535e" stroke-width="0.7" fill="none" opacity="0.8"/>
<path d="M133.4 11.15 H135.9 M133.4 12.4 H135.9" stroke="#50535e" stroke-width="0.7" fill="none" opacity="0.8"/>
<text x="13.9" y="14.3" textLength="25.3" lengthAdjust="spacingAndGlyphs">1668.97</text>
<text x="55.1" y="14.3" textLength="25.3" lengthAdjust="spacingAndGlyphs">1668.97</text>
<text x="96.4" y="14.3" textLength="25.3" lengthAdjust="spacingAndGlyphs">1653.98</text>
<text x="137.3" y="14.3" textLength="25.6" lengthAdjust="spacingAndGlyphs">1659.45</text>
<text x="166.7" y="14.3" textLength="17.3" lengthAdjust="spacingAndGlyphs">−9.46</text>
<text x="187.4" y="14.3" textLength="27.3" lengthAdjust="spacingAndGlyphs">(−0.57%)</text>
</g>
</svg></body></html>
